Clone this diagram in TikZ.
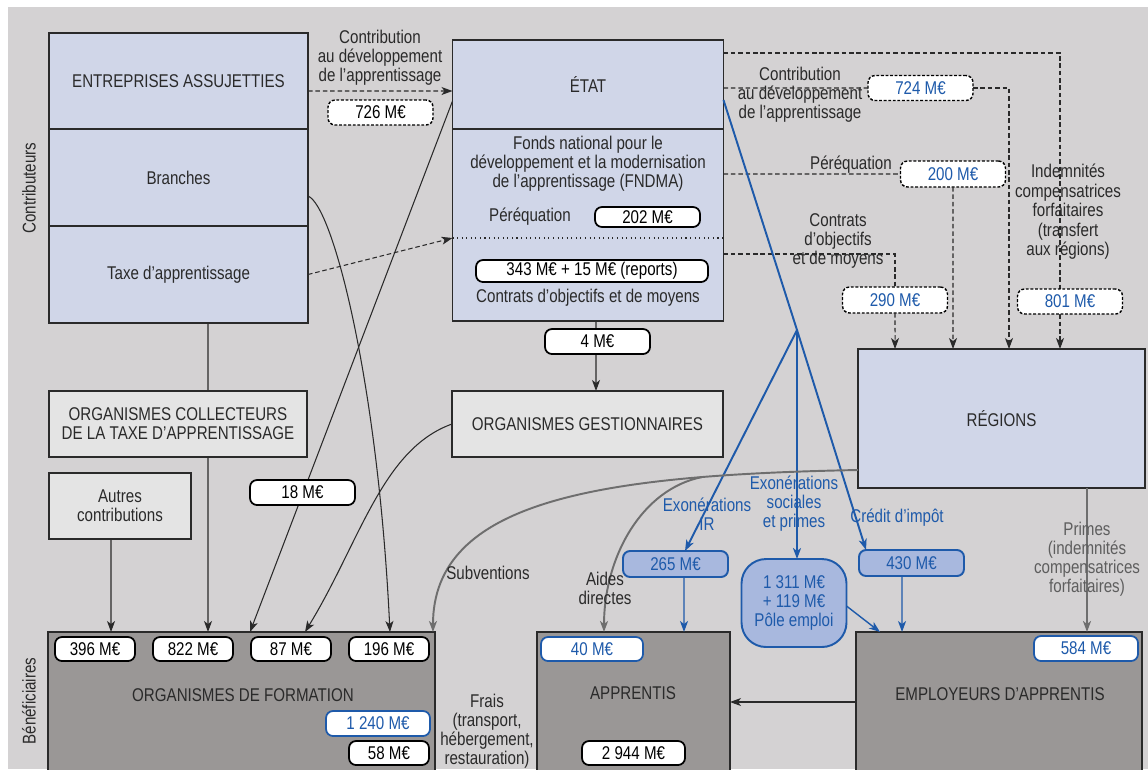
\documentclass[tikz,border=0pt]{standalone}
\usepackage{fontspec}
\setmainfont{Liberation Sans}[FakeStretch=0.82]
\usetikzlibrary{arrows.meta,calc}
\definecolor{bgc}{HTML}{D4D2D3}
\definecolor{lblue}{HTML}{D0D6E8}
\definecolor{lgrey}{HTML}{E4E4E4}
\definecolor{dgrey}{HTML}{9A9796}
\definecolor{bline}{HTML}{1E5AAA}
\definecolor{bfill}{HTML}{A8B8DE}
\definecolor{gline}{HTML}{6E6E6E}
\definecolor{ink}{HTML}{2A2A2A}
\tikzset{
  sz/.style 2 args={minimum width={#1*0.02cm}, minimum height={#2*0.02cm}},
  box/.style={draw=ink, line width=0.8pt, inner sep=0pt, outer sep=0pt, align=center, text=ink},
  bluebox/.style={box, fill=lblue},
  greybox/.style={box, fill=lgrey},
  darkbox/.style={box, fill=dgrey},
  val/.style={draw=black, line width=1pt, fill=white, rounded corners=4pt, inner sep=0pt, outer sep=0pt, text=black},
  bval/.style={val, draw=bline, text=bline},
  dval/.style={val, line width=0.8pt, dash pattern=on 1.6pt off 1pt, text=bline},
  fval/.style={val, draw=bline, fill=bfill, text=bline, line width=1.1pt, align=center},
  txt/.style={align=center, inner sep=0pt, text=ink},
  tip/.style={-{Stealth[length=0.22cm,width=0.16cm,inset=0.06cm]}},
  arr/.style={tip, line width=0.6pt, draw=ink},
  darr/.style={arr, dash pattern=on 2.6pt off 1.6pt},
  dline/.style={line width=0.6pt, draw=ink, dash pattern=on 2.6pt off 1.6pt},
  barr/.style={tip, line width=1.1pt, draw=bline},
  bline/.style={line width=1.1pt, draw=bline},
  garr/.style={tip, line width=1.1pt, draw=gline},
}
\begin{document}
\begin{tikzpicture}[x=0.02cm, y=-0.02cm, font=\fontsize{10.5}{10.8}\selectfont]
\useasboundingbox (0,0) rectangle (1148,769);
\fill[bgc] (8,7) rectangle (1148,769);

% ---- contributeurs
\node[bluebox, sz={259}{96}] (ent) at (178.5,81) {ENTREPRISES ASSUJETTIES};
\node[bluebox, sz={259}{97}] (bra) at (178.5,177.5) {Branches};
\node[bluebox, sz={259}{97}] (taxe) at (178.5,274.5) {Taxe d’apprentissage};
\node[txt, rotate=90] (lcontrib) at (29,188) {Contributeurs};
\node[txt, rotate=90] (lbenef) at (29,701) {Bénéficiaires};

% ---- Etat
\node[bluebox, sz={271}{89}] (etat) at (588,84.5) {ÉTAT};
\node[bluebox, sz={271}{192}] (fndma) at (588,225) {};
\node[txt, font=\fontsize{10.5}{9.4}\selectfont] (tfndma) at (588,164) {Fonds national pour le\\développement et la modernisation\\de l’apprentissage (FNDMA)};
\node[txt] (tpereq) at (530,217) {Péréquation};
\node[val, sz={105}{20}] (v202) at (647.5,217) {202 M€};
\draw[ink, line width=0.6pt, dotted] ([yshift=-0.26cm]fndma.west) -- ([yshift=-0.26cm]fndma.east);
\node[val, sz={232}{22}] (v343) at (592,271) {343 M€ + 15 M€ (reports)};
\node[txt] (tcom) at (588,298) {Contrats d’objectifs et de moyens};

% ---- other boxes
\node[greybox, sz={258}{66}] (oc) at (178,424) {ORGANISMES COLLECTEURS\\DE LA TAXE D’APPRENTISSAGE};
\node[greybox, sz={142}{66}] (autres) at (120,506) {Autres\\contributions};
\node[greybox, sz={271}{66}] (og) at (587.5,424) {ORGANISMES GESTIONNAIRES};
\node[bluebox, sz={287}{139}] (reg) at (1001.5,418.5) {RÉGIONS};
\node[darkbox, sz={387}{140}] (of) at (241.5,702) {};
\node[darkbox, sz={193}{140}] (app) at (633.5,702) {};
\node[darkbox, sz={286}{140}] (emp) at (999,702) {};
\node[txt] (tof) at (243,695) {ORGANISMES DE FORMATION};
\node[txt] (tapp) at (633,693) {APPRENTIS};
\node[txt] (temp) at (1000,694) {EMPLOYEURS D’APPRENTIS};

% ---- left connectors
\draw[darr] ([yshift=-0.2cm]ent.east) -- ([yshift=-0.13cm]etat.west);
\node[txt] (lcda1) at (380,57.5) {Contribution\\au développement\\de l’apprentissage};
\node[val, dash pattern=on 1.6pt off 1pt, line width=0.8pt, sz={105}{25}] (v726) at (380.5,112.5) {726 M€};
\draw[darr] (taxe.east) -- ([yshift=-0.26cm]fndma.west);
\draw[arr] ([yshift=-0.37cm]bra.east) .. controls +(25,10) and +(-12,-250) .. ([xshift=2.97cm]of.north);
\draw[arr] ([yshift=-0.33cm]etat.west) -- ([xshift=0.17cm]of.north);
\node[val, sz={105}{25}] (v18) at (302.5,492.5) {18 M€};
\draw[ink, line width=0.6pt] ([xshift=0.59cm]taxe.south) -- ([xshift=0.6cm]oc.north);
\draw[arr] ([xshift=0.6cm]oc.south) -- ([xshift=-0.67cm]of.north);
\draw[arr] ([xshift=-0.18cm]autres.south) -- ([xshift=-2.61cm]of.north);
\draw[arr, draw=ink] (og.west) .. controls +(-70,25) and +(55,-90) .. ([xshift=1.27cm]of.north);
\draw[arr] ([xshift=0.16cm]fndma.south) -- ([xshift=0.17cm]og.north);
\node[val, sz={105}{25}] (v4) at (597.5,341.5) {4 M€};

% ---- OF values
\node[val, sz={80}{24}] (v396) at (95,649) {396 M€};
\node[val, sz={80}{24}] (v822) at (193,649) {822 M€};
\node[val, sz={80}{24}] (v87) at (291,649) {87 M€};
\node[val, sz={80}{24}] (v196) at (389,649) {196 M€};
\node[bval, sz={104}{25}] (v1240) at (378,723.5) {1 240 M€};
\node[val, sz={80}{24}] (v58) at (389,753) {58 M€};
\node[bval, sz={102}{24}] (v40) at (592,649) {40 M€};
\node[val, sz={103}{24}] (v2944) at (633.5,753) {2 944 M€};
\node[bval, sz={104}{25}] (v584) at (1086,648.5) {584 M€};
\node[txt] (tfrais) at (487,731.5) {Frais\\(transport,\\hébergement,\\restauration)};

% ---- dashed connectors to regions
\draw[darr] ([yshift=0.63cm]etat.east) -| ([xshift=1.17cm]reg.north);
\node[txt, font=\fontsize{10.5}{11.1}\selectfont] (tindem) at (1068,212) {Indemnités\\compensatrices\\forfaitaires\\(transfert\\aux régions)};
\node[dval, sz={105}{25}] (v801) at (1070,301.5) {801 M€};

\node[dval, sz={105}{25}] (v724) at (920.5,88) {724 M€};
\draw[dline] ([yshift=-0.07cm]etat.east) -- (v724.west);
\draw[darr] (v724.east) -| ([xshift=0.15cm]reg.north);
\node[txt] (lcda2) at (800,95) {Contribution\\au développement\\de l’apprentissage};

\node[dval, sz={105}{26}] (v200) at (953,174) {200 M€};
\draw[dline] ([yshift=1.02cm]fndma.east) -- (v200.west);
\draw[darr] (v200.south) -- ([xshift=-0.97cm]reg.north);
\node[txt, anchor=south] (lpereq2) at (851,174) {Péréquation};

\node[dval, sz={105}{26}] (v290) at (895,300) {290 M€};
\draw[dline] ([yshift=-0.58cm]fndma.east) -| (v290.north);
\draw[darr] (v290.south) -- ([xshift=-2.13cm]reg.north);
\node[txt] (lcom2) at (838,241) {Contrats\\d’objectifs\\et de moyens};

% ---- blue connectors
\node[fval, sz={105}{26}] (v265) at (675.5,564) {265 M€};
\node[fval, sz={105}{88}, rounded corners=14pt] (v1311) at (794,603) {1 311 M€\\+ 119 M€\\Pôle emploi};
\node[fval, sz={105}{26}] (v430) at (911.5,563) {430 M€};
\coordinate (J) at (797,330);
\draw[bline] ([yshift=-0.31cm]etat.east) -- (J);
\draw[barr] (J) -- ([xshift=0.19cm]v265.north);
\draw[barr] (J) -- ([xshift=0.06cm]v1311.north);
\draw[barr] (J) -- ([xshift=-0.91cm]v430.north);
\draw[barr, line width=0.8pt] ([xshift=0.17cm]v265.south) -- ([xshift=1.01cm]app.north);
\draw[barr, line width=0.8pt] ([xshift=-0.19cm]v430.south) -- ([xshift=-1.94cm]emp.north);
\draw[barr, line width=0.8pt] ([yshift=-0.06cm]v1311.east) -- ([xshift=-2.38cm]emp.north);
\node[txt, text=bline] (lexir) at (707,514) {Exonérations\\IR};
\node[txt, text=bline] (lexso) at (794,504) {Exonérations\\sociales\\et primes};
\node[txt, text=bline] (lcred) at (897,518) {Crédit d’impôt};

% ---- grey connectors from regions
\draw[garr] ([yshift=-1.03cm]reg.west) .. controls +(-258,5) and +(0,-132) .. coordinate[pos=0.22] (br) ([xshift=3.83cm]of.north);
\draw[garr] (br) .. controls +(-60,12) and +(0,-75) .. ([xshift=-0.59cm]app.north);
\draw[garr] ([xshift=1.71cm]reg.south) -- ([xshift=1.76cm]emp.north);
\node[txt, text=gline!85!black] (lprimes) at (1087,559.5) {Primes\\(indemnités\\compensatrices\\forfaitaires)};
\node[txt] (lsubv) at (488,573) {Subventions};
\node[txt] (laides) at (605,588) {Aides\\directes};

\draw[arr] (emp.west) -- (app.east);
\end{tikzpicture}
\end{document}
